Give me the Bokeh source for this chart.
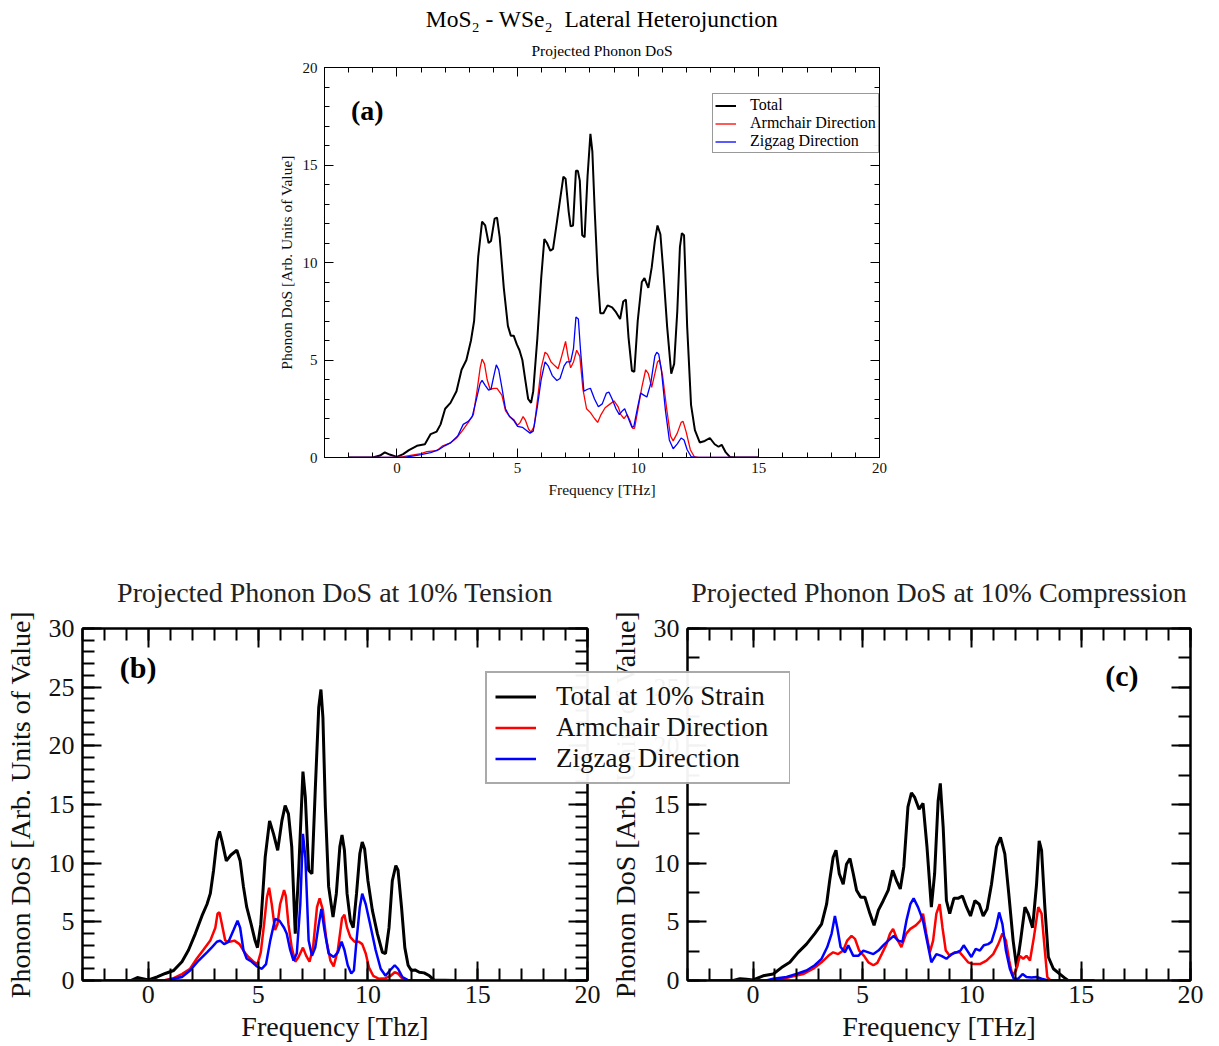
from bokeh.plotting import figure
from bokeh.models import (Legend, LegendItem, LinearAxis, SingleIntervalTicker, Label,
                          Title, Range1d, CustomJSTickFormatter)
from bokeh.layouts import column, row
from bokeh.embed import file_html
from bokeh.resources import INLINE

SERIF = "Liberation Serif"

# ---------------- data: (frequency THz, DoS) ----------------
a_total = [(-2.0, 0), (-1.0, 0), (-0.7, 0.1), (-0.5, 0.26), (-0.3, 0.15), (0.0, 0.03), (0.26, 0.17),
           (0.5, 0.38), (0.83, 0.6), (1.16, 0.68), (1.4, 1.2), (1.65, 1.33), (1.81, 1.7), (2.0, 2.5),
           (2.22, 2.8), (2.47, 3.4), (2.68, 4.5), (2.88, 5.0), (3.07, 6.0), (3.2, 7.0), (3.37, 10.3),
           (3.53, 12.1), (3.66, 11.9), (3.8, 11.0), (3.9, 11.1), (4.05, 12.25), (4.15, 12.3),
           (4.26, 11.3), (4.43, 8.7), (4.6, 6.75), (4.72, 6.25), (4.84, 6.25), (4.97, 5.8), (5.08, 5.5),
           (5.2, 5.0), (5.33, 3.9), (5.44, 3.0), (5.56, 2.8), (5.65, 3.4), (5.82, 6.1), (5.98, 9.2),
           (6.11, 11.2), (6.22, 11.0), (6.36, 10.6), (6.47, 10.7), (6.6, 11.8), (6.76, 13.2), (6.9, 14.4),
           (6.99, 14.3), (7.12, 12.6), (7.2, 11.85), (7.3, 11.9), (7.42, 14.7), (7.5, 14.7), (7.58, 14.2),
           (7.68, 11.4), (7.78, 11.3), (7.9, 14.4), (8.02, 16.6), (8.1, 15.7), (8.2, 12.6), (8.32, 9.4),
           (8.43, 7.4), (8.56, 7.4), (8.73, 7.8), (8.92, 7.7), (9.08, 7.45), (9.25, 7.1), (9.38, 8.0),
           (9.49, 8.1), (9.6, 6.15), (9.74, 4.45), (9.84, 4.4), (9.98, 7.0), (10.15, 9.0), (10.26, 9.2),
           (10.42, 8.7), (10.56, 9.75), (10.69, 11.1), (10.8, 11.9), (10.92, 11.45), (11.05, 9.4),
           (11.2, 6.7), (11.37, 4.3), (11.49, 4.8), (11.62, 7.5), (11.73, 10.8), (11.81, 11.5),
           (11.9, 11.4), (12.03, 6.7), (12.19, 2.7), (12.35, 1.4), (12.55, 0.77), (12.76, 0.85),
           (12.97, 1.0), (13.17, 0.68), (13.33, 0.55), (13.46, 0.65), (13.63, 0.26), (13.8, 0.03),
           (14.0, 0), (15.0, 0)]

a_armchair = [(-2, 0), (0, 0), (0.26, 0.05), (1.0, 0.2), (1.24, 0.3), (1.65, 0.35), (1.9, 0.6), (2.22, 0.75),
              (2.47, 1.0), (2.7, 1.35), (2.96, 1.8), (3.17, 2.2), (3.33, 3.5), (3.45, 4.6), (3.53, 5.05),
              (3.63, 4.8), (3.74, 4.0), (3.86, 3.5), (4.02, 3.55), (4.15, 3.55), (4.35, 3.2), (4.5, 2.4),
              (4.67, 2.1), (4.84, 1.95), (5.0, 1.65), (5.11, 1.8), (5.23, 2.1), (5.33, 1.9), (5.46, 1.45),
              (5.56, 1.3), (5.69, 1.6), (5.85, 3.2), (5.98, 4.6), (6.14, 5.4), (6.24, 5.3), (6.39, 4.9),
              (6.55, 4.7), (6.68, 4.55), (6.83, 5.2), (6.99, 5.95), (7.09, 5.2), (7.2, 4.6), (7.32, 4.9),
              (7.45, 5.5), (7.58, 5.2), (7.71, 3.5), (7.86, 2.5), (8.02, 2.3), (8.19, 2.0), (8.32, 1.8),
              (8.46, 2.2), (8.63, 2.55), (8.84, 2.75), (9.0, 2.9), (9.17, 2.6), (9.28, 2.2), (9.41, 2.0),
              (9.54, 2.2), (9.66, 1.9), (9.77, 1.5), (9.85, 1.5), (9.98, 2.4), (10.15, 3.6), (10.31, 4.5),
              (10.42, 4.3), (10.56, 3.6), (10.69, 4.3), (10.8, 4.9), (10.88, 5.0), (11.01, 4.2), (11.18, 2.5),
              (11.34, 1.1), (11.45, 0.85), (11.62, 1.25), (11.78, 1.8), (11.86, 1.85), (11.99, 1.3),
              (12.16, 0.4), (12.32, 0.05), (12.5, 0), (15, 0)]

a_zigzag = [(-2, 0), (0.3, 0), (1.0, 0.15), (1.4, 0.25), (1.73, 0.4), (1.98, 0.6), (2.22, 0.75), (2.52, 1.1),
            (2.75, 1.7), (2.96, 1.85), (3.12, 2.1), (3.28, 2.9), (3.45, 3.8), (3.53, 3.95), (3.66, 3.7),
            (3.8, 3.45), (3.9, 3.5), (4.02, 4.2), (4.12, 4.75), (4.22, 4.5), (4.35, 3.6), (4.5, 2.5),
            (4.67, 2.1), (4.84, 1.9), (5.0, 1.6), (5.2, 1.55), (5.36, 1.4), (5.52, 1.25), (5.65, 1.35),
            (5.82, 2.6), (5.98, 4.0), (6.14, 4.9), (6.27, 4.7), (6.44, 4.2), (6.63, 3.95), (6.76, 4.05),
            (6.93, 4.7), (7.04, 4.9), (7.2, 4.9), (7.32, 5.6), (7.42, 7.2), (7.52, 7.1), (7.61, 5.5),
            (7.75, 3.4), (7.9, 3.5), (8.02, 3.55), (8.19, 3.0), (8.35, 2.6), (8.51, 2.75), (8.68, 3.3),
            (8.79, 3.35), (8.92, 3.0), (9.08, 2.5), (9.22, 2.2), (9.35, 2.4), (9.44, 2.5), (9.58, 2.05),
            (9.74, 1.55), (9.82, 1.6), (9.98, 2.6), (10.1, 3.3), (10.23, 3.2), (10.36, 3.1), (10.52, 3.8),
            (10.69, 5.2), (10.77, 5.4), (10.85, 5.3), (10.96, 4.5), (11.13, 2.4), (11.29, 0.9),
            (11.45, 0.45), (11.62, 0.7), (11.78, 1.0), (11.9, 0.9), (12.03, 0.4), (12.19, 0.05),
            (12.4, 0), (15, 0)]

b_total = [(-2, 0), (-0.8, 0), (-0.5, 0.25), (-0.36, 0.2), (0, 0.05), (0.4, 0.3), (0.77, 0.6), (1.15, 0.85),
           (1.53, 1.6), (1.83, 2.6), (2.14, 4.0), (2.44, 5.5), (2.67, 6.5), (2.82, 7.4), (2.97, 9.4),
           (3.12, 11.9), (3.24, 12.7), (3.35, 11.9), (3.55, 10.2), (3.76, 10.7), (4.03, 11.1), (4.18, 10.2),
           (4.33, 8.0), (4.48, 6.25), (4.68, 4.8), (4.86, 3.4), (4.97, 2.8), (5.12, 4.8), (5.32, 10.5),
           (5.52, 13.6), (5.7, 12.5), (5.89, 11.1), (6.08, 13.6), (6.23, 14.9), (6.38, 14.2), (6.53, 11.4),
           (6.69, 4.0), (6.84, 9.1), (7.04, 17.8), (7.15, 15.6), (7.3, 9.4), (7.45, 9.1), (7.6, 16.2),
           (7.76, 23.3), (7.86, 24.8), (7.95, 22.4), (8.06, 14.8), (8.21, 8.0), (8.41, 5.4), (8.56, 7.4),
           (8.72, 11.4), (8.82, 12.4), (8.93, 11.1), (9.05, 7.4), (9.2, 5.1), (9.33, 4.5), (9.48, 7.4),
           (9.63, 10.8), (9.74, 11.8), (9.85, 11.2), (10.0, 8.5), (10.2, 6.0), (10.43, 4.0), (10.66, 2.4),
           (10.8, 2.3), (10.96, 4.5), (11.11, 8.5), (11.27, 9.8), (11.37, 9.4), (11.53, 6.25), (11.68, 2.8),
           (11.83, 1.3), (11.98, 0.85), (12.14, 0.9), (12.34, 0.7), (12.56, 0.65), (12.8, 0.4), (13.0, 0.05),
           (14, 0)]

b_armchair = [(-2, 0), (0.77, 0.05), (1.15, 0.2), (1.53, 0.55), (1.9, 1.0), (2.2, 1.85), (2.5, 2.6),
              (2.82, 3.4), (3.05, 4.5), (3.15, 5.7), (3.24, 5.8), (3.35, 4.8), (3.5, 3.4), (3.7, 3.3),
              (3.92, 3.4), (4.15, 3.1), (4.38, 2.4), (4.56, 2.0), (4.79, 1.6), (4.97, 1.4), (5.12, 2.4),
              (5.27, 4.8), (5.4, 7.1), (5.5, 7.9), (5.62, 6.5), (5.77, 4.3), (5.88, 4.8), (6.0, 6.5),
              (6.18, 7.7), (6.26, 7.2), (6.38, 4.8), (6.53, 2.8), (6.69, 1.6), (6.84, 2.0), (7.04, 2.8),
              (7.19, 2.1), (7.34, 1.6), (7.5, 2.8), (7.68, 6.25), (7.8, 7.0), (7.95, 6.0), (8.11, 3.4),
              (8.29, 1.7), (8.44, 1.2), (8.63, 2.6), (8.82, 5.3), (8.93, 5.6), (9.05, 4.5), (9.2, 3.7),
              (9.39, 3.3), (9.59, 3.3), (9.74, 3.1), (9.9, 2.3), (10.05, 1.1), (10.24, 0.4), (10.5, 0.15),
              (10.8, 0.2), (11.04, 0.4), (11.22, 0.7), (11.37, 0.6), (11.57, 0.15), (11.75, 0), (14, 0)]

b_zigzag = [(-2, 0), (0.8, 0), (1.15, 0.15), (1.53, 0.3), (1.9, 0.85), (2.29, 1.7), (2.67, 2.4), (2.9, 2.85),
            (3.12, 3.3), (3.27, 3.4), (3.45, 3.1), (3.65, 3.3), (3.88, 4.3), (4.06, 5.1), (4.18, 4.5),
            (4.33, 2.6), (4.48, 1.85), (4.71, 1.6), (4.94, 1.2), (5.17, 1.0), (5.36, 1.4), (5.55, 3.4),
            (5.77, 5.25), (5.97, 5.1), (6.18, 4.5), (6.3, 4.0), (6.46, 2.6), (6.61, 1.7), (6.76, 2.3),
            (6.92, 6.5), (7.04, 12.5), (7.15, 10.5), (7.3, 3.4), (7.45, 2.1), (7.6, 2.8), (7.76, 4.8),
            (7.88, 6.1), (8.02, 4.3), (8.21, 2.3), (8.44, 2.0), (8.63, 2.4), (8.8, 3.3), (8.93, 2.6),
            (9.08, 1.3), (9.24, 0.6), (9.36, 0.85), (9.48, 3.4), (9.63, 6.25), (9.74, 7.4), (9.9, 6.5),
            (10.1, 4.8), (10.35, 2.6), (10.58, 1.0), (10.8, 0.4), (11.0, 0.85), (11.22, 1.3), (11.37, 1.0),
            (11.57, 0.3), (11.8, 0.05), (12.0, 0), (14, 0)]

c_total = [(-2, 0), (-0.9, 0), (-0.6, 0.15), (-0.3, 0.1), (0, 0.05), (0.46, 0.4), (0.92, 0.55), (1.3, 1.1),
           (1.68, 1.55), (2.06, 2.4), (2.44, 3.1), (2.82, 4.0), (3.13, 4.8), (3.36, 6.5), (3.5, 8.5),
           (3.66, 10.5), (3.79, 11.1), (3.94, 9.1), (4.12, 8.2), (4.27, 9.9), (4.43, 10.4), (4.58, 9.1),
           (4.73, 7.7), (4.92, 7.1), (5.11, 7.1), (5.34, 5.7), (5.53, 4.7), (5.73, 6.0), (5.95, 6.8),
           (6.18, 7.7), (6.38, 9.4), (6.56, 8.5), (6.73, 7.8), (6.89, 9.7), (7.08, 14.8), (7.24, 16.0),
           (7.39, 15.6), (7.59, 14.6), (7.77, 15.1), (7.95, 11.4), (8.15, 6.25), (8.3, 9.1), (8.46, 15.3),
           (8.56, 16.8), (8.69, 13.1), (8.84, 6.8), (8.99, 5.7), (9.18, 7.0), (9.37, 7.0), (9.57, 7.2),
           (9.76, 6.25), (9.94, 5.5), (10.14, 6.8), (10.34, 6.5), (10.52, 5.5), (10.7, 6.1), (10.9, 8.2),
           (11.13, 11.4), (11.31, 12.2), (11.51, 10.8), (11.69, 7.4), (11.89, 3.4), (12.05, 1.1),
           (12.23, 3.4), (12.43, 6.25), (12.58, 5.7), (12.78, 4.5), (12.96, 8.2), (13.08, 11.9),
           (13.19, 11.1), (13.34, 6.25), (13.5, 2.0), (13.73, 1.0), (14.03, 0.55), (14.23, 0.25),
           (14.4, 0), (15.6, 0)]

c_armchair = [(-2, 0), (0.92, 0), (1.37, 0.15), (1.83, 0.35), (2.29, 0.55), (2.75, 1.0), (3.13, 1.55),
              (3.44, 2.1), (3.66, 2.4), (3.89, 2.25), (4.12, 2.55), (4.3, 3.4), (4.5, 3.8), (4.66, 3.55),
              (4.85, 2.55), (5.07, 2.1), (5.27, 1.55), (5.5, 1.3), (5.68, 1.5), (5.88, 2.25), (6.1, 3.1),
              (6.26, 4.0), (6.4, 4.4), (6.58, 3.55), (6.78, 2.85), (7.0, 4.0), (7.19, 4.4), (7.44, 4.7),
              (7.65, 5.1), (7.77, 5.7), (7.92, 4.0), (8.08, 2.4), (8.23, 3.4), (8.38, 5.7), (8.53, 6.5),
              (8.66, 4.5), (8.81, 2.55), (8.99, 2.1), (9.22, 2.4), (9.45, 2.4), (9.63, 2.0), (9.83, 1.55),
              (10.06, 1.4), (10.37, 1.4), (10.67, 1.7), (10.98, 2.25), (11.21, 3.1), (11.4, 4.0),
              (11.56, 3.4), (11.71, 1.7), (11.86, 0.4), (12.02, 0.85), (12.2, 2.1), (12.35, 1.85),
              (12.5, 2.1), (12.66, 1.7), (12.84, 3.7), (13.04, 6.25), (13.19, 5.7), (13.34, 2.55),
              (13.45, 0.3), (13.57, 0.05), (13.8, 0), (15.6, 0)]

c_zigzag = [(-2, 0), (0.6, 0), (0.92, 0.15), (1.53, 0.3), (1.98, 0.55), (2.44, 0.85), (2.82, 1.3),
            (3.13, 1.85), (3.39, 2.85), (3.59, 4.0), (3.74, 5.5), (3.85, 4.5), (4.0, 2.85), (4.2, 2.4),
            (4.35, 3.0), (4.58, 2.1), (4.81, 2.1), (5.04, 2.55), (5.27, 2.4), (5.5, 2.25), (5.73, 2.55),
            (5.95, 3.0), (6.18, 3.4), (6.43, 3.8), (6.63, 3.4), (6.83, 3.3), (7.01, 5.1), (7.19, 6.5),
            (7.34, 7.0), (7.54, 6.25), (7.77, 5.1), (7.95, 3.4), (8.15, 1.55), (8.38, 2.25), (8.61, 2.1),
            (8.84, 1.85), (9.07, 2.25), (9.3, 2.4), (9.48, 2.55), (9.63, 3.0), (9.79, 2.55), (9.98, 2.0),
            (10.18, 2.7), (10.37, 2.55), (10.55, 3.0), (10.75, 3.1), (10.9, 3.3), (11.1, 4.5),
            (11.25, 5.8), (11.4, 4.8), (11.56, 2.55), (11.74, 1.0), (11.92, 0.15), (12.12, 0.15),
            (12.32, 0.55), (12.5, 0.3), (12.73, 0.25), (12.96, 0.3), (13.19, 0.15), (13.42, 0.05),
            (13.6, 0), (15.6, 0)]

top_title = "MoS\u2082 - WSe\u2082 \u00a0Lateral Heterojunction"
top_subtitle = "Projected Phonon DoS"
title_b = "Projected Phonon DoS at 10% Tension"
title_c = "Projected Phonon DoS at 10% Compression"
ylabel = "Phonon DoS [Arb. Units of Value]"
legend_a = ["Total", "Armchair Direction", "Zigzag Direction"]
legend_bc = ["Total at 10% Strain", "Armchair Direction", "Zigzag Direction"]
colors = ["black", "red", "blue"]


def unzip(pairs):
    return [p[0] for p in pairs], [p[1] for p in pairs]


def make_fig(width, height, borders, y_max, y_minor, lw, maj_in, min_in, tick_px, lab_px,
             xlabel, tick_standoff, label_standoff):
    l, r, t, b = borders
    p = figure(width=width, height=height, x_range=Range1d(-3, 20), y_range=Range1d(0, y_max),
               output_backend="svg", toolbar_location=None,
               min_border_left=l, min_border_right=r, min_border_top=t, min_border_bottom=b,
               x_axis_label=xlabel, y_axis_label=ylabel)
    p.xgrid.visible = False
    p.ygrid.visible = False
    p.outline_line_color = "black"
    p.outline_line_width = lw
    p.background_fill_color = "white"
    p.border_fill_color = None
    xt = SingleIntervalTicker(interval=5, num_minor_ticks=5)
    yt = SingleIntervalTicker(interval=5, num_minor_ticks=y_minor)
    p.xaxis.ticker = xt
    p.yaxis.ticker = yt
    top = LinearAxis(ticker=xt, formatter=CustomJSTickFormatter(code="return ''"))
    right = LinearAxis(ticker=yt, formatter=CustomJSTickFormatter(code="return ''"))
    p.add_layout(top, "above")
    p.add_layout(right, "right")
    for ax in p.axis:
        ax.axis_line_color = "black"
        ax.axis_line_width = lw
        ax.major_tick_line_color = "black"
        ax.minor_tick_line_color = "black"
        ax.major_tick_line_width = lw
        ax.minor_tick_line_width = lw
        ax.major_tick_in = maj_in
        ax.major_tick_out = 0
        ax.minor_tick_in = min_in
        ax.minor_tick_out = 0
        ax.major_label_text_font = SERIF
        ax.major_label_text_font_size = f"{tick_px}px"
        ax.major_label_text_color = "#111111"
        ax.axis_label_text_font = SERIF
        ax.axis_label_text_font_size = f"{lab_px}px"
        ax.axis_label_text_font_style = "normal"
        ax.axis_label_text_color = "#111111"
    p.xaxis[0].major_label_standoff = tick_standoff[0]
    p.yaxis[0].major_label_standoff = tick_standoff[1]
    p.xaxis[0].axis_label_standoff = label_standoff[0]
    p.yaxis[0].axis_label_standoff = label_standoff[1]
    return p


def add_lines(p, series, widths):
    rs = []
    for pairs, col, w in zip(series, colors, widths):
        x, y = unzip(pairs)
        rs.append(p.line(x, y, line_color=col, line_width=w))
    return rs


# ---------------- (a) top ----------------
pa = make_fig(1219, 500, (324, 340, 67, 43), 20, 5, 1, 9, 5, 15, 15.5,
              "Frequency [THz]", (1, 7), (0, 5))
pa.add_layout(Title(text=top_subtitle, align="center", text_font=SERIF, text_font_size="15.5px",
                    text_font_style="normal", text_color="black", standoff=17), "above")
pa.add_layout(Title(text=top_title, align="center", text_font=SERIF, text_font_size="23.5px",
                    text_font_style="normal", text_color="black", standoff=0), "above")
ra = add_lines(pa, [a_total, a_armchair, a_zigzag], [2, 1.3, 1.3])
leg_a = Legend(items=[LegendItem(label=t, renderers=[r]) for t, r in zip(legend_a, ra)],
               location=(388, 304), label_text_font=SERIF, label_text_font_size="16px",
               label_text_line_height=1.0,
               label_text_color="black", glyph_width=21, glyph_height=17, label_height=17,
               label_standoff=14, padding=2, spacing=0, margin=0,
               border_line_color="#333333", border_line_width=1, background_fill_color="white")
pa.add_layout(leg_a)
pa.add_layout(Label(x=-1.9, y=17.8, text="(a)", text_font=SERIF, text_font_style="bold",
                    text_font_size="28px", text_baseline="middle", text_color="black"))

# ---------------- (b) tension ----------------
pb = make_fig(605, 546, (82, 18, 128, 66), 30, 5, 2, 19, 12, 26, 28,
              "Frequency [Thz]", (6, 8), (0, 10))
pb.add_layout(Title(text=title_b, align="center", text_font=SERIF, text_font_size="28px",
                    text_font_style="normal", text_color="#222222", standoff=41), "above")
add_lines(pb, [b_total, b_armchair, b_zigzag], [3, 2.5, 2.5])
pb.add_layout(Label(x=-1.3, y=26.7, text="(b)", text_font=SERIF, text_font_style="bold",
                    text_font_size="30px", text_baseline="middle", text_color="black"))

# ---------------- (c) compression ----------------
pc = make_fig(764, 546, (232, 29, 128, 66), 30, 2, 2, 19, 12, 26, 28,
              "Frequency [THz]", (6, 8), (0, 10))
pc.add_layout(Title(text=title_c, align="center", text_font=SERIF, text_font_size="28px",
                    text_font_style="normal", text_color="#222222", standoff=41), "above")
add_lines(pc, [c_total, c_armchair, c_zigzag], [3, 2.5, 2.5])
pc.add_layout(Label(x=16.1, y=26.0, text="(c)", text_font=SERIF, text_font_style="bold",
                    text_font_size="30px", text_baseline="middle", text_color="black"))
pc.margin = (0, 0, 0, -150)

# ---------------- shared legend of (b)/(c), overlaid across both panels ----------------
# transparent overlay figure; its copies of the (c) lines lie outside its x range (not visible),
# they only provide the legend glyph styles
pl = figure(width=305, height=546, x_range=Range1d(100, 101), y_range=Range1d(0, 1),
            output_backend="svg", toolbar_location=None,
            x_axis_location=None, y_axis_location=None,
            min_border_left=0, min_border_right=0, min_border_top=0, min_border_bottom=0)
pl.xgrid.visible = False
pl.ygrid.visible = False
pl.outline_line_color = None
pl.background_fill_color = None
pl.border_fill_color = None
rl = add_lines(pl, [c_total, c_armchair, c_zigzag], [3, 2.5, 2.5])
leg_c = Legend(items=[LegendItem(label=t, renderers=[r]) for t, r in zip(legend_bc, rl)],
               location=(0, 196), label_text_font=SERIF, label_text_font_size="27px",
               label_text_line_height=1.0,
               label_text_color="#111111", glyph_width=41, glyph_height=29, label_height=29,
               label_width=225, label_standoff=20, padding=8, spacing=0, margin=0,
               border_line_color="#555555", border_line_width=2, background_fill_color="white")
pl.add_layout(leg_c)
pl.margin = (0, 429, 0, -734)

layout = column(pa, row(pb, pc, pl, spacing=0), spacing=0)
open("out.html", "w").write(file_html(layout, INLINE))
